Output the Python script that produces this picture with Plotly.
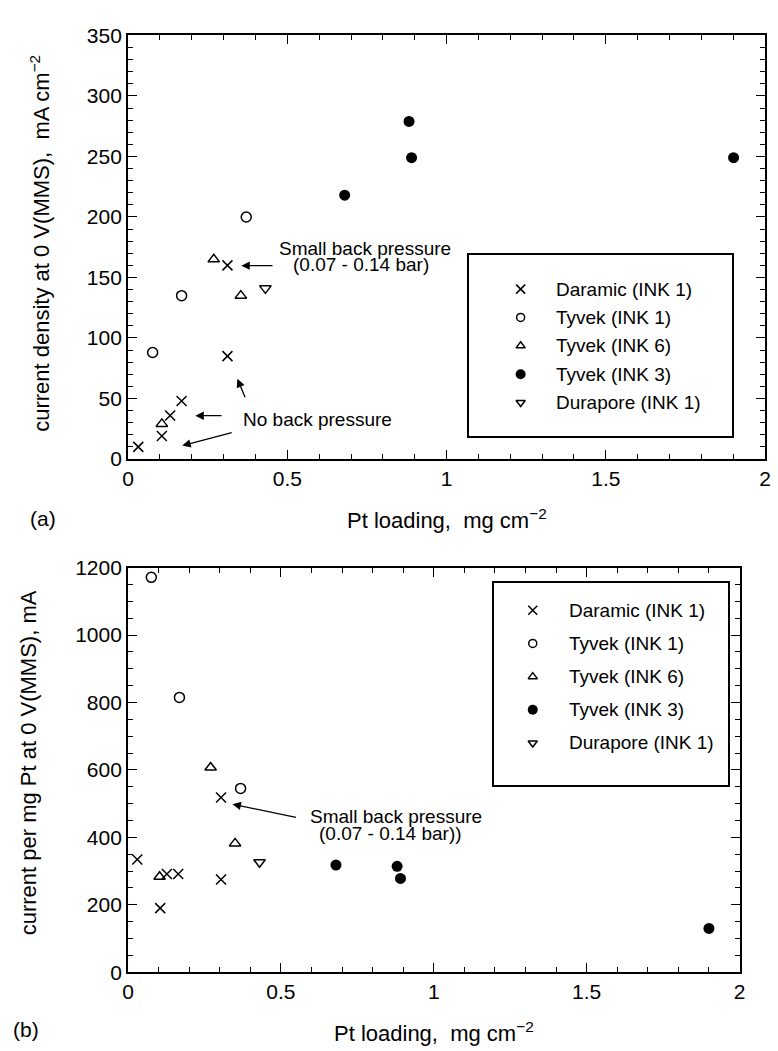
import plotly.graph_objects as go

W, H = 778, 1051
FONT = "Liberation Sans, Arial, Helvetica, sans-serif"

# ---------------- data (a): current density vs Pt loading ----------------
daramic_x_a = [0.032, 0.106, 0.132, 0.168, 0.312, 0.312]
daramic_y_a = [10, 19, 36, 48, 85, 160]
tyvek1_x_a = [0.077, 0.168, 0.371]
tyvek1_y_a = [88, 135, 200]
tyvek6_x_a = [0.106, 0.269, 0.354]
tyvek6_y_a = [29, 165, 135]
tyvek3_x_a = [0.680, 0.882, 0.890, 1.901]
tyvek3_y_a = [218, 279, 249, 249]
durapore_x_a = [0.431]
durapore_y_a = [141]

# ---------------- data (b): current per mg Pt vs Pt loading ----------------
daramic_x_b = [0.030, 0.105, 0.127, 0.164, 0.304, 0.304]
daramic_y_b = [334, 190, 291, 291, 275, 518]
tyvek1_x_b = [0.076, 0.168, 0.368]
tyvek1_y_b = [1171, 815, 545]
tyvek6_x_b = [0.103, 0.270, 0.350]
tyvek6_y_b = [283, 607, 382]
tyvek3_x_b = [0.680, 0.880, 0.891, 1.900]
tyvek3_y_b = [318, 314, 278, 130]
durapore_x_b = [0.430]
durapore_y_b = [326]

series_names = ["Daramic (INK 1)", "Tyvek (INK 1)", "Tyvek (INK 6)", "Tyvek (INK 3)", "Durapore (INK 1)"]

symbols = ["x-thin-open", "circle-open", "triangle-up-open", "circle", "triangle-down-open"]
sizes = [10, 10, 10, 11, 10]
key_sizes = [9, 8, 8, 10, 8]


def marker(i, size):
    return dict(symbol=symbols[i], size=size, color="black",
                line=dict(color="black", width=0 if symbols[i] == "circle" else 1.5))


data_a = [(daramic_x_a, daramic_y_a), (tyvek1_x_a, tyvek1_y_a), (tyvek6_x_a, tyvek6_y_a),
          (tyvek3_x_a, tyvek3_y_a), (durapore_x_a, durapore_y_a)]
data_b = [(daramic_x_b, daramic_y_b), (tyvek1_x_b, tyvek1_y_b), (tyvek6_x_b, tyvek6_y_b),
          (tyvek3_x_b, tyvek3_y_b), (durapore_x_b, durapore_y_b)]


def px(x):
    return x / W


def py(y):
    return 1 - y / H


fig = go.Figure()
for i, (name, (xs, ys)) in enumerate(zip(series_names, data_a)):
    fig.add_trace(go.Scatter(x=xs, y=ys, mode="markers", name=name, marker=marker(i, sizes[i]),
                             xaxis="x", yaxis="y", showlegend=False))
for i, (name, (xs, ys)) in enumerate(zip(series_names, data_b)):
    fig.add_trace(go.Scatter(x=xs, y=ys, mode="markers", name=name, marker=marker(i, sizes[i]),
                             xaxis="x2", yaxis="y2", showlegend=False))

# legend boxes: overlay axes measured in page pixels (box frame = axis lines)
legend_boxes = {
    "3": dict(box=(470.7, 248, 737, 433.3), sym_x=522.7, text_x=556.7, row0=283.3, step=29.0),
    "4": dict(box=(496, 583.3, 733.3, 790), sym_x=535, text_x=570, row0=611.7, step=33.9),
}
ann = []
for k, lb in legend_boxes.items():
    x0, y0, x1, y1 = lb["box"]
    rows = [lb["row0"] + lb["step"] * i for i in range(len(series_names))]
    for i, name in enumerate(series_names):
        fig.add_trace(go.Scatter(x=[lb["sym_x"]], y=[rows[i]], mode="markers", name=name,
                                 marker=marker(i, key_sizes[i]), xaxis="x" + k, yaxis="y" + k,
                                 showlegend=False, hoverinfo="skip", cliponaxis=False))
        ann.append(dict(x=lb["text_x"], y=rows[i], xref="x" + k, yref="y" + k, text=name,
                        showarrow=False, xanchor="left", yanchor="middle",
                        font=dict(family=FONT, size=19, color="black")))


def axis(domain, rng, dtick, minor_dtick, anchor):
    return dict(domain=domain, range=rng, dtick=dtick, tick0=0, tickmode="linear",
                showline=True, linewidth=2, linecolor="black", mirror="allticks",
                ticks="inside", ticklen=9, tickwidth=1.2, tickcolor="black",
                showgrid=False, zeroline=False, anchor=anchor,
                tickfont=dict(family=FONT, size=21, color="black"),
                minor=dict(dtick=minor_dtick, tick0=0, ticks="inside", ticklen=5,
                           tickwidth=1.2, tickcolor="black", showgrid=False))


def box_axis(domain, rng, anchor):
    return dict(domain=domain, range=rng, anchor=anchor, showline=True, linewidth=1.5,
                linecolor="black", mirror=True, ticks="", showticklabels=False,
                showgrid=False, zeroline=False, fixedrange=True)


lb3 = legend_boxes["3"]["box"]
lb4 = legend_boxes["4"]["box"]
fig.update_layout(
    width=W, height=H, margin=dict(l=0, r=0, t=0, b=0),
    paper_bgcolor="white", plot_bgcolor="white", showlegend=False,
    xaxis=axis([px(124), px(771)], [0, 2], 0.5, 0.1, "y"),
    yaxis=axis([py(457), py(24)], [0, 350], 50, 10, "x"),
    xaxis2=axis([px(124), px(745)], [0, 2], 0.5, 0.1, "y2"),
    yaxis2=axis([py(981.7), py(568)], [0, 1200], 200, 50, "x2"),
    xaxis3=box_axis([px(lb3[0]), px(lb3[2])], [lb3[0], lb3[2]], "y3"),
    yaxis3=box_axis([py(lb3[3]), py(lb3[1])], [lb3[3], lb3[1]], "x3"),
    xaxis4=box_axis([px(lb4[0]), px(lb4[2])], [lb4[0], lb4[2]], "y4"),
    yaxis4=box_axis([py(lb4[3]), py(lb4[1])], [lb4[3], lb4[1]], "x4"),
)


def text(x, y, s, size=19, angle=0, xanchor="center"):
    ann.append(dict(x=px(x), y=py(y), xref="paper", yref="paper", text=s, showarrow=False,
                    xanchor=xanchor, yanchor="middle", textangle=angle,
                    font=dict(family=FONT, size=size, color="black")))


def arrow(tx, ty, hx, hy):
    ann.append(dict(x=px(hx), y=py(hy), xref="paper", yref="paper", text="", showarrow=True,
                    ax=tx - hx, ay=ty - hy, axref="pixel", ayref="pixel",
                    arrowhead=2, arrowsize=1.3, arrowwidth=1.3, arrowcolor="black", standoff=0))


# axis titles and panel labels
text(447.5, 518, "Pt loading,  mg cm<sup>−2</sup>", size=22)
text(434.5, 1043, "Pt loading,  mg cm<sup>−2</sup>", size=22)
text(34.5, 236, "current density at 0 V(MMS),  mA cm<sup>−2</sup>", size=22, angle=-90)
text(22.5, 768, "current per mg Pt at 0 V(MMS), mA", size=22, angle=-90)
text(37.5, 518, "(a)", size=21)
text(20.5, 1040, "(b)", size=21)

# annotations (a)
text(365, 242, "Small back pressure")
text(361, 258, "(0.07 - 0.14 bar)")
arrow(271.7, 259.3, 239, 259.3)
text(316, 416.7, "No back pressure")
arrow(220, 412.7, 192.3, 412.7)
arrow(230, 430, 179, 443.3)
arrow(243.3, 395, 235, 375)

# annotations (b)
text(396, 822, "Small back pressure")
text(391, 840, "(0.07 - 0.14 bar))")
arrow(295, 823.3, 230, 810)

fig.update_layout(annotations=ann)

fig.write_html("out.html")
